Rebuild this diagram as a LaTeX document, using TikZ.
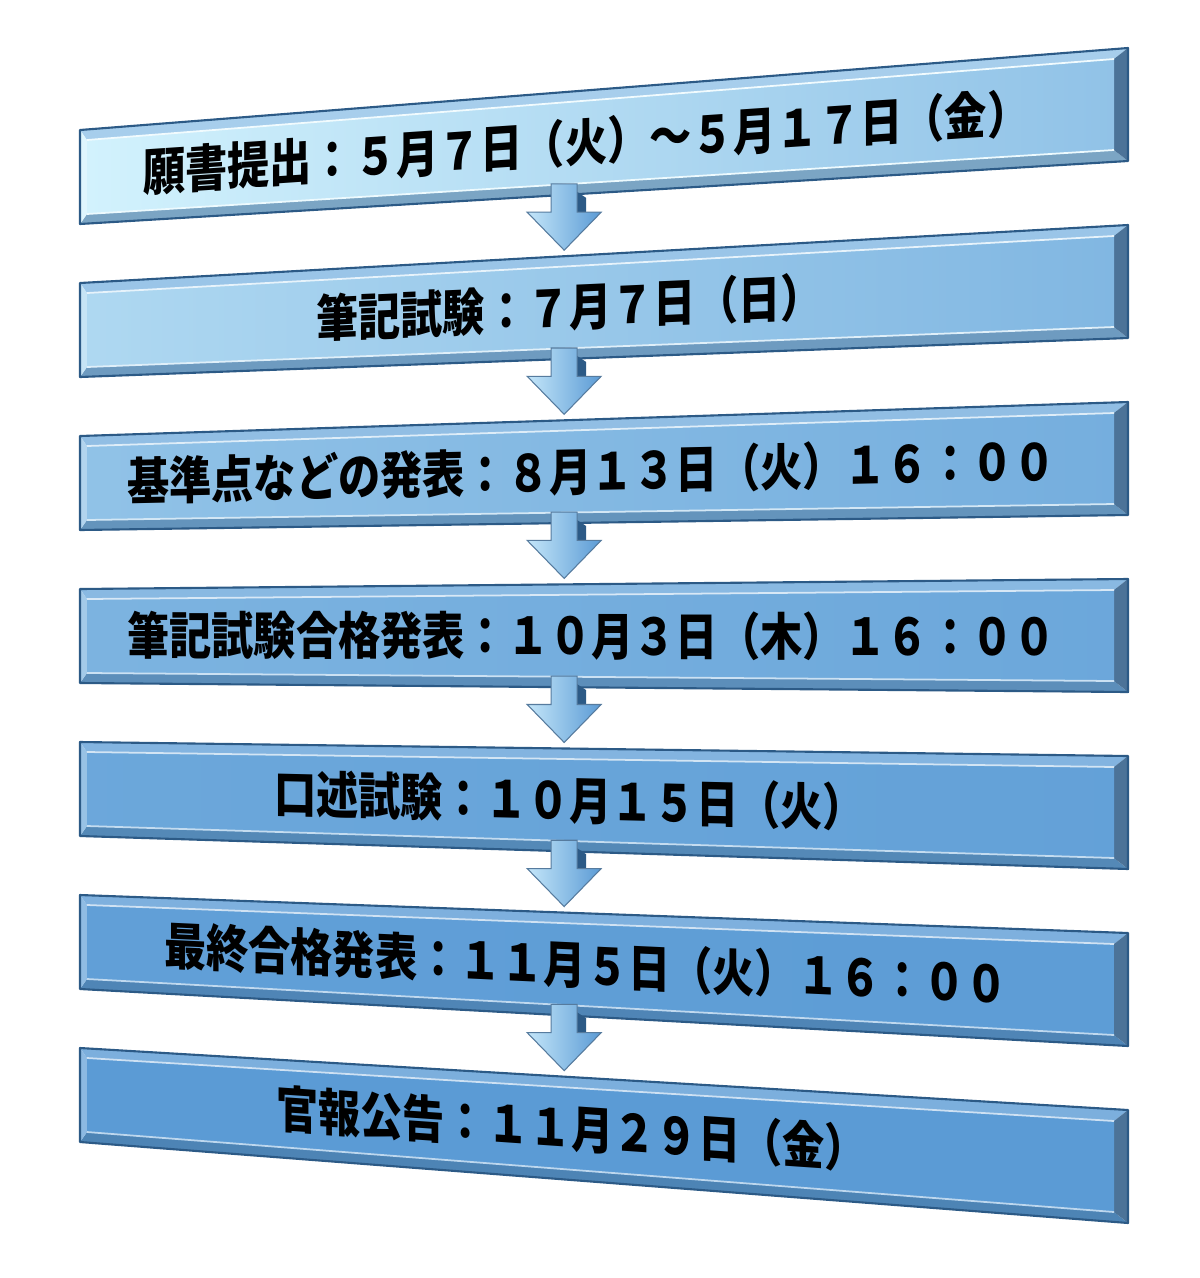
\documentclass[tikz,border=0pt]{standalone}
\usepackage{fontspec}
\usetikzlibrary{calc}
\newfontfamily\jpfont{Noto Sans CJK JP}
\definecolor{palecyan}{HTML}{D2F2FD}
\definecolor{officeblue}{HTML}{5B9BD5}
\definecolor{bevelnavy}{HTML}{2C5A86}
\definecolor{arrowlight}{HTML}{C4E6F9}

\begin{document}
\begin{tikzpicture}[x=0.01cm,y=-0.01cm,
  frameline/.style={draw=bevelnavy,line width=0.6pt,line join=round},
  stagetext/.style={font=\jpfont\bfseries\fontsize{12}{14}\selectfont,inner sep=0pt},
  flowarrow/.style={draw=bevelnavy!80,line width=0.3pt,left color=arrowlight,right color=officeblue}]
\useasboundingbox[fill=white] (0,0) rectangle (1200,1278);
\foreach \i/\pl/\pr/\f/\txt in {
  1/0/55/.483/願書提出：５月７日（火）～５月１７日（金）,
  2/30/68/.467/筆記試験：７月７日（日）,
  3/55/78/.488/基準点などの発表：８月１３日（火）１６：００,
  4/72/86/.488/筆記試験合格発表：１０月３日（木）１６：００,
  5/86/93/.467/口述試験：１０月１５日（火）,
  6/95/98/.483/最終合格発表：１１月５日（火）１６：００,
  7/100/100/.469/官報公告：１１月２９日（金）}{
  \colorlet{faceL}{officeblue!\pl!palecyan}
  \colorlet{faceR}{officeblue!\pr!palecyan}
  \coordinate (tl\i) at (80,{130+153*(\i-1)});
  \coordinate (bl\i) at (80,{224+153*(\i-1)});
  \coordinate (tr\i) at (1128,{48+177*(\i-1)});
  \coordinate (br\i) at (1128,{161+177*(\i-1)});
  \coordinate (ml\i) at ($(tl\i)!.5!(bl\i)$);
  \coordinate (mr\i) at ($(tr\i)!.5!(br\i)$);
  \fill[faceR!80!white] (tl\i) -- (tr\i) -- ($(tr\i)+(-14,11)$) -- ($(tl\i)+(7,10)$) -- cycle;
  \fill[faceR!85!black] (bl\i) -- (br\i) -- ($(br\i)+(-14,-11)$) -- ($(bl\i)+(7,-10)$) -- cycle;
  \fill[bevelnavy!85] (tr\i) -- (br\i) -- ($(br\i)+(-14,-11)$) -- ($(tr\i)+(-14,11)$) -- cycle;
  \fill[faceL!70!white] (tl\i) -- (bl\i) -- ($(bl\i)+(7,-10)$) -- ($(tl\i)+(7,10)$) -- cycle;
  \shade[left color=faceL,right color=faceR] ($(tl\i)+(7,10)$) -- ($(tr\i)+(-14,11)$)
    -- ($(br\i)+(-14,-11)$) -- ($(bl\i)+(7,-10)$) -- cycle;
  \draw[white!70!faceL,line width=0.5pt] ($(tl\i)+(7,10)$) -- ($(tr\i)+(-14,11)$);
  \draw[white!60!faceL,line width=0.5pt] ($(bl\i)+(7,-10)$) -- ($(br\i)+(-14,-11)$);
  \draw[frameline] (tl\i) -- (tr\i) -- (br\i) -- (bl\i) -- cycle;
  \pgfmathsetmacro\sl{(71-24*(\i-1))/1050}
  \node[stagetext,yslant=\sl,yscale=1.2] (s\i) at ($(ml\i)!\f!(mr\i)$) {\txt};
}
\foreach \i [evaluate=\i as \j using int(\i+1)] in {1,...,6}{
  \coordinate (b\i) at ($(bl\i)!0.462!(br\i)+(0,-11)$);
  \coordinate (t\j) at ($(tl\j)!0.462!(tr\j)+(0,-6)$);
  \fill[bevelnavy] ($(b\i)+(13,8)$) -- ($(b\i)+(22,14)$) -- ($(t\j)+(22,-38)$) -- ($(t\j)+(13,-38)$) -- cycle;
  \draw[flowarrow] ($(b\i)+(-13,0)$) -- ($(t\j)+(-13,-38)$) -- ($(t\j)+(-37,-38)$) -- (t\j)
    -- ($(t\j)+(37,-38)$) -- ($(t\j)+(13,-38)$) -- ($(b\i)+(13,0)$) -- cycle;
}
\end{tikzpicture}
\end{document}
